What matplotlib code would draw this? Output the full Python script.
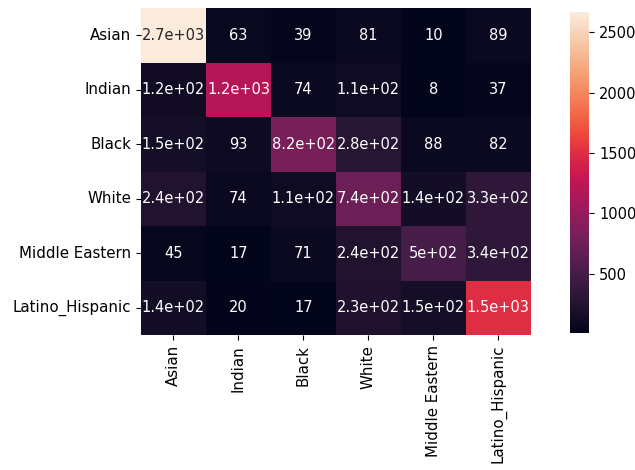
import numpy as np
import matplotlib
matplotlib.use('Agg')
import matplotlib.pyplot as plt
import seaborn as sns

# clases del modelo de predicción de etnia
clases = ['Asian', 'Indian', 'Black', 'White', 'Middle Eastern', 'Latino_Hispanic']

# matriz de confusión (filas = real, columnas = predicho)
fila_asian    = [2665, 63, 39, 81, 10, 89]
fila_indian   = [120, 1200, 74, 110, 8, 37]
fila_black    = [150, 93, 820, 280, 88, 82]
fila_white    = [240, 74, 110, 740, 140, 330]
fila_mideast  = [45, 17, 71, 240, 500, 340]
fila_latino   = [140, 20, 17, 230, 150, 1500]

cm = np.array([fila_asian, fila_indian, fila_black,
               fila_white, fila_mideast, fila_latino])

fig = plt.figure(figsize=(6.35, 4.7), dpi=100)
ax = fig.add_axes([0.222, 0.287, 0.614, 0.696])
cax = fig.add_axes([0.898, 0.291, 0.030, 0.683])

sns.heatmap(cm, annot=True, annot_kws={'fontsize': 10.5},
            xticklabels=clases, yticklabels=clases,
            ax=ax, cbar_ax=cax)
ax.tick_params(axis='both', labelsize=10.8)
cax.tick_params(labelsize=10.5)

fig.savefig('out.png', dpi=100)
